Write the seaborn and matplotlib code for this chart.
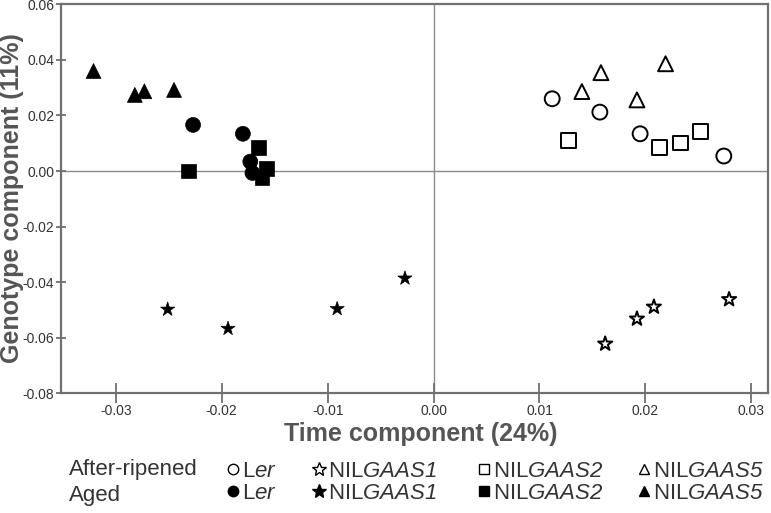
import matplotlib
matplotlib.use("Agg")
import matplotlib.pyplot as plt
from matplotlib.lines import Line2D
from matplotlib.ticker import FormatStrFormatter, MultipleLocator
import seaborn as sns
import pandas as pd

# ── data ─────────────────────────────────────────────────────────────────────
GENOTYPES = ["Ler", "NILGAAS1", "NILGAAS2", "NILGAAS5"]
# \mathsf is mapped to the italic face so the digits are slanted too
LABELS = ["L$\\mathsf{er}$", "NIL$\\mathsf{GAAS1}$", "NIL$\\mathsf{GAAS2}$", "NIL$\\mathsf{GAAS5}$"]
MARKERS = {"Ler": "o", "NILGAAS1": "*", "NILGAAS2": "s", "NILGAAS5": "^"}

# after-ripened (open symbols)
ar_ler_x  = [0.0112, 0.0157, 0.0195, 0.0274]
ar_ler_y  = [0.0260, 0.0212, 0.0134, 0.0054]
ar_g1_x   = [0.0162, 0.0192, 0.0208, 0.0279]
ar_g1_y   = [-0.0622, -0.0532, -0.0489, -0.0462]
ar_g2_x   = [0.0127, 0.0213, 0.0233, 0.0252]
ar_g2_y   = [0.0109, 0.0085, 0.0101, 0.0143]
ar_g5_x   = [0.0140, 0.0158, 0.0192, 0.0219]
ar_g5_y   = [0.0286, 0.0354, 0.0256, 0.0386]

# aged (filled symbols)
ag_ler_x  = [-0.0227, -0.0180, -0.0173, -0.0171]
ag_ler_y  = [0.0166, 0.0134, 0.0034, -0.0007]
ag_g1_x   = [-0.0251, -0.0194, -0.0091, -0.0027]
ag_g1_y   = [-0.0498, -0.0567, -0.0496, -0.0386]
ag_g2_x   = [-0.0231, -0.0165, -0.0158, -0.0162]
ag_g2_y   = [0.0000, 0.0085, 0.0009, -0.0023]
ag_g5_x   = [-0.0321, -0.0282, -0.0273, -0.0245]
ag_g5_y   = [0.0360, 0.0274, 0.0287, 0.0292]


def frame(xs, ys, geno, treat):
    return pd.DataFrame({"x": xs, "y": ys, "genotype": geno, "treatment": treat})


df = pd.concat([
    frame(ar_ler_x, ar_ler_y, "Ler", "After-ripened"),
    frame(ar_g1_x, ar_g1_y, "NILGAAS1", "After-ripened"),
    frame(ar_g2_x, ar_g2_y, "NILGAAS2", "After-ripened"),
    frame(ar_g5_x, ar_g5_y, "NILGAAS5", "After-ripened"),
    frame(ag_ler_x, ag_ler_y, "Ler", "Aged"),
    frame(ag_g1_x, ag_g1_y, "NILGAAS1", "Aged"),
    frame(ag_g2_x, ag_g2_y, "NILGAAS2", "Aged"),
    frame(ag_g5_x, ag_g5_y, "NILGAAS5", "Aged"),
], ignore_index=True)

# ── style ─────────────────────────────────────────────────────────────────────
sns.set_style("ticks")
plt.rcParams["font.family"] = ["Liberation Sans", "DejaVu Sans"]
plt.rcParams["mathtext.fontset"] = "custom"
plt.rcParams["mathtext.rm"] = "Liberation Sans"
plt.rcParams["mathtext.it"] = "Liberation Sans:italic"
plt.rcParams["mathtext.sf"] = "Liberation Sans:italic"
plt.rcParams["axes.unicode_minus"] = False

GREY = "#707070"
TXT = "#333333"

fig = plt.figure(figsize=(7.71, 5.13), dpi=100)
ax = fig.add_axes([0.0787, 0.2333, 0.9178, 0.7583])

ax.axhline(0, color="#8c8c8c", lw=1.0, zorder=0)
ax.axvline(0, color="#8c8c8c", lw=1.0, zorder=0)

ar = df[df["treatment"] == "After-ripened"]
ag = df[df["treatment"] == "Aged"]
sns.scatterplot(data=ar, x="x", y="y", style="genotype", markers=MARKERS,
                style_order=GENOTYPES, color="white", edgecolor="black",
                linewidth=1.4, s=115, legend=False, ax=ax, zorder=3)
sns.scatterplot(data=ag, x="x", y="y", style="genotype", markers=MARKERS,
                style_order=GENOTYPES, color="black", edgecolor="black",
                linewidth=0.5, s=115, legend=False, ax=ax, zorder=3)

ax.set_xlim(-0.0352, 0.0316)
ax.set_ylim(-0.08, 0.06)
ax.xaxis.set_major_locator(MultipleLocator(0.01))
ax.yaxis.set_major_locator(MultipleLocator(0.02))
ax.xaxis.set_major_formatter(FormatStrFormatter("%.2f"))
ax.yaxis.set_major_formatter(FormatStrFormatter("%.2f"))
ax.tick_params(axis="x", direction="inout", length=14, width=1.3, color=GREY,
               labelsize=10, labelcolor=TXT, pad=1)
ax.tick_params(axis="y", direction="inout", length=7, width=1.3, color=GREY,
               labelsize=10, labelcolor=TXT, pad=1)
for sp in ax.spines.values():
    sp.set_visible(True)
    sp.set_color(GREY)
    sp.set_linewidth(1.6)

ax.set_xlabel("Time component (24%)", fontsize=18, fontweight="bold", color="#555555")
ax.set_ylabel("Genotype component (11%)", fontsize=18, fontweight="bold", color="#555555")
ax.xaxis.set_label_coords(0.509, -0.073)
ax.yaxis.set_label_coords(-0.052, 0.503)

# ── legend: row labels + one two-row legend per genotype ────────────────────
row_y = [1 - 470 / 513, 1 - 495 / 513]
fig.text(69 / 771, row_y[0], "After-ripened", fontsize=16, color=TXT, va="center")
fig.text(69 / 771, row_y[1], "Aged", fontsize=16, color=TXT, va="center")

legend_x = [226, 312, 477, 637]
for g, lab, lx in zip(GENOTYPES, LABELS, legend_x):
    m = MARKERS[g]
    ms = 10 if m == "*" else 7.5
    h_open = Line2D([], [], ls="", marker=m, ms=ms, mfc="white", mec="black", mew=1.0)
    h_fill = Line2D([], [], ls="", marker=m, ms=ms, mfc="black", mec="black")
    fig.legend(handles=[h_open, h_fill], labels=[lab, lab], loc="center left",
               bbox_to_anchor=(lx / 771, (row_y[0] + row_y[1]) / 2),
               frameon=False, fontsize=16, labelcolor=TXT, handlelength=0.6,
               handletextpad=0.1, labelspacing=0.05, borderpad=0, borderaxespad=0)

fig.savefig("out.png", dpi=100)
